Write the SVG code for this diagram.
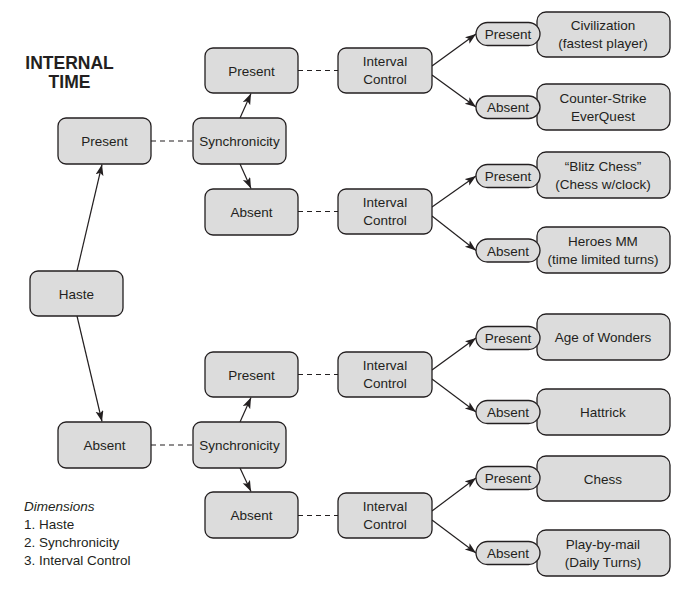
<svg xmlns="http://www.w3.org/2000/svg" width="682" height="590" viewBox="0 0 682 590">
<defs>
<marker id="ah" markerUnits="userSpaceOnUse" markerWidth="12" markerHeight="9" refX="11" refY="4" orient="auto">
<path d="M0,0 L11,4 L0,8 L2.5,4 z" fill="#231f20"/>
</marker>
<style>
.b{fill:#dcdcdc;stroke:#231f20;stroke-width:1.3}
.t{font-family:"Liberation Sans",Arial,sans-serif;font-size:13.5px;fill:#231f20;text-anchor:middle}
.ln{stroke:#231f20;stroke-width:1.2;fill:none}
.ar{stroke:#231f20;stroke-width:1.2;fill:none;marker-end:url(#ah)}
.d{stroke:#231f20;stroke-width:1.2;fill:none;stroke-dasharray:5,4}
</style>
</defs>
<rect width="682" height="590" fill="#ffffff"/>
<g id="title">
<text x="69.5" y="69" style="font-family:'Liberation Sans',Arial,sans-serif;font-size:17.5px;font-weight:bold;fill:#231f20;text-anchor:middle">INTERNAL</text>
<text x="69.5" y="88" style="font-family:'Liberation Sans',Arial,sans-serif;font-size:17.5px;font-weight:bold;fill:#231f20;text-anchor:middle">TIME</text>
</g>
<g id="legend" style="font-family:'Liberation Sans',Arial,sans-serif;font-size:13.5px;fill:#231f20">
<text x="24" y="510.5" font-style="italic">Dimensions</text>
<text x="24" y="529">1. Haste</text>
<text x="24" y="547">2. Synchronicity</text>
<text x="24" y="565">3. Interval Control</text>
</g>
<g id="connectors">
<line class="ar" x1="77" y1="271" x2="102" y2="164.5"/>
<line class="ar" x1="77" y1="316" x2="102" y2="421.5"/>
<line class="d" x1="151" y1="141" x2="193" y2="141"/>
<line class="d" x1="151" y1="445" x2="193" y2="445"/>
<line class="ar" x1="240" y1="118" x2="251" y2="93.5"/>
<line class="ar" x1="240" y1="164" x2="251" y2="188.5"/>
<line class="ar" x1="240" y1="422" x2="251" y2="397.5"/>
<line class="ar" x1="240" y1="468" x2="251" y2="491.5"/>
<line class="d" x1="298" y1="70.5" x2="338" y2="70.5"/>
<line class="d" x1="298" y1="211.5" x2="338" y2="211.5"/>
<line class="d" x1="298" y1="374.5" x2="338" y2="374.5"/>
<line class="d" x1="298" y1="515.5" x2="338" y2="515.5"/>
<line class="ar" x1="432" y1="66" x2="476" y2="34"/>
<line class="ar" x1="432" y1="75" x2="476" y2="107"/>
<line class="ar" x1="432" y1="207" x2="476" y2="176"/>
<line class="ar" x1="432" y1="216" x2="476" y2="250.5"/>
<line class="ar" x1="432" y1="370" x2="476" y2="338"/>
<line class="ar" x1="432" y1="379" x2="476" y2="412"/>
<line class="ar" x1="432" y1="511" x2="476" y2="478"/>
<line class="ar" x1="432" y1="520" x2="476" y2="553"/>
</g>
<g id="haste"><rect class="b" x="30" y="271" width="93" height="45" rx="8"/><text class="t" x="76.5" y="298.5">Haste</text></g>
<g id="haste-present"><rect class="b" x="58" y="118" width="93" height="46" rx="8"/><text class="t" x="104.5" y="146">Present</text></g>
<g id="haste-absent"><rect class="b" x="58" y="422" width="93" height="46" rx="8"/><text class="t" x="104.5" y="450">Absent</text></g>
<g id="sync1"><rect class="b" x="193" y="118" width="93" height="46" rx="8"/><text class="t" x="239.5" y="146">Synchronicity</text></g>
<g id="sync2"><rect class="b" x="193" y="422" width="93" height="46" rx="8"/><text class="t" x="239.5" y="450">Synchronicity</text></g>
<g id="s1-present"><rect class="b" x="205" y="48" width="93" height="45" rx="8"/><text class="t" x="251.5" y="75.5">Present</text></g>
<g id="s1-absent"><rect class="b" x="205" y="189" width="93" height="46" rx="8"/><text class="t" x="251.5" y="217">Absent</text></g>
<g id="s2-present"><rect class="b" x="205" y="352" width="93" height="45" rx="8"/><text class="t" x="251.5" y="379.5">Present</text></g>
<g id="s2-absent"><rect class="b" x="205" y="492" width="93" height="46" rx="8"/><text class="t" x="251.5" y="520">Absent</text></g>
<g id="ic1"><rect class="b" x="338" y="48" width="94" height="45" rx="8"/><text class="t" x="385" y="66">Interval</text><text class="t" x="385" y="84">Control</text></g>
<g id="ic2"><rect class="b" x="338" y="189" width="94" height="45" rx="8"/><text class="t" x="385" y="207">Interval</text><text class="t" x="385" y="225">Control</text></g>
<g id="ic3"><rect class="b" x="338" y="352" width="94" height="45" rx="8"/><text class="t" x="385" y="370">Interval</text><text class="t" x="385" y="388">Control</text></g>
<g id="ic4"><rect class="b" x="338" y="493" width="94" height="45" rx="8"/><text class="t" x="385" y="511">Interval</text><text class="t" x="385" y="529">Control</text></g>
<g id="r1"><rect class="b" x="537" y="12" width="133" height="45" rx="9"/><text class="t" x="603" y="30">Civilization</text><text class="t" x="603" y="48">(fastest player)</text></g>
<g id="r2"><rect class="b" x="537" y="84" width="133" height="46" rx="9"/><text class="t" x="603" y="102.5">Counter-Strike</text><text class="t" x="603" y="120.5">EverQuest</text></g>
<g id="r3"><rect class="b" x="537" y="152" width="133" height="46" rx="9"/><text class="t" x="603" y="170.5">“Blitz Chess”</text><text class="t" x="603" y="188.5">(Chess w/clock)</text></g>
<g id="r4"><rect class="b" x="537" y="227" width="133" height="46" rx="9"/><text class="t" x="603" y="245.5">Heroes MM</text><text class="t" x="603" y="263.5">(time limited turns)</text></g>
<g id="r5"><rect class="b" x="537" y="314" width="133" height="46" rx="9"/><text class="t" x="603" y="342">Age of Wonders</text></g>
<g id="r6"><rect class="b" x="537" y="389" width="133" height="46" rx="9"/><text class="t" x="603" y="417">Hattrick</text></g>
<g id="r7"><rect class="b" x="537" y="456" width="133" height="45" rx="9"/><text class="t" x="603" y="483.5">Chess</text></g>
<g id="r8"><rect class="b" x="537" y="530" width="133" height="46" rx="9"/><text class="t" x="603" y="548.5">Play-by-mail</text><text class="t" x="603" y="566.5">(Daily Turns)</text></g>
<g id="p1"><rect class="b" x="476" y="22.5" width="64" height="23" rx="11.5"/><text class="t" x="508" y="39">Present</text></g>
<g id="p2"><rect class="b" x="476" y="96" width="64" height="22.5" rx="11.25"/><text class="t" x="508" y="112">Absent</text></g>
<g id="p3"><rect class="b" x="476" y="164.5" width="64" height="23" rx="11.5"/><text class="t" x="508" y="181">Present</text></g>
<g id="p4"><rect class="b" x="476" y="239" width="64" height="23" rx="11.5"/><text class="t" x="508" y="255.5">Absent</text></g>
<g id="p5"><rect class="b" x="476" y="326.5" width="64" height="23" rx="11.5"/><text class="t" x="508" y="343">Present</text></g>
<g id="p6"><rect class="b" x="476" y="400.5" width="64" height="23" rx="11.5"/><text class="t" x="508" y="417">Absent</text></g>
<g id="p7"><rect class="b" x="476" y="466.5" width="64" height="23" rx="11.5"/><text class="t" x="508" y="483">Present</text></g>
<g id="p8"><rect class="b" x="476" y="541.5" width="64" height="23" rx="11.5"/><text class="t" x="508" y="558">Absent</text></g>
</svg>
